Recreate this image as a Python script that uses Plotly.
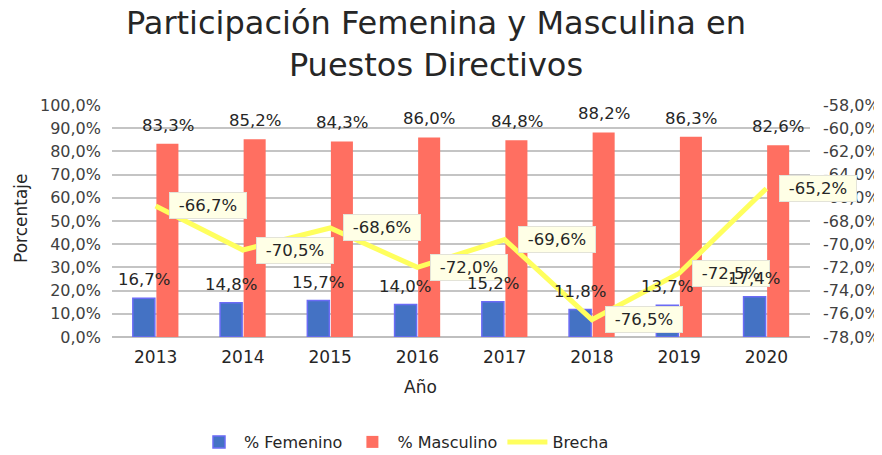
import plotly.graph_objects as go

years = [2013, 2014, 2015, 2016, 2017, 2018, 2019, 2020]
femenino = [16.7, 14.8, 15.7, 14.0, 15.2, 11.8, 13.7, 17.4]
masculino = [83.3, 85.2, 84.3, 86.0, 84.8, 88.2, 86.3, 82.6]
brecha = [-66.7, -70.5, -68.6, -72.0, -69.6, -76.5, -72.5, -65.2]
left_ticks = [0, 10, 20, 30, 40, 50, 60, 70, 80, 90, 100]
right_ticks = [-78, -76, -74, -72, -70, -68, -66, -64, -62, -60, -58]

FONT = "DejaVu Sans"
TXT = "#404040"
DARK = "#262626"

# page has an 8px body margin; the figure is sized to fit the 882x455 window
OFF = 8
W, H = 882 - OFF, 455 - OFF
PL, PR, PT, PB = 112 - OFF, 810 - OFF, 105 - OFF, 337 - OFF   # plot box in figure px
PW, PH = PR - PL, PB - PT


def px_x(page_x):
    return (page_x - OFF - PL) / PW


def px_y(page_y):
    return (PB - (page_y - OFF)) / PH


def fmt(v):
    return f"{v:.1f}%".replace(".", ",")


fig = go.Figure()
fig.add_trace(go.Bar(
    x=years, y=femenino, name="% Femenino",
    marker=dict(color="#4472C4", line=dict(color="#6B6BF5", width=1.5)),
    offsetgroup="f",
))
fig.add_trace(go.Bar(
    x=years, y=masculino, name="% Masculino",
    marker=dict(color="#FF6F61", line=dict(color="#FF6F61", width=0)),
    offsetgroup="m",
))
fig.add_trace(go.Scatter(
    x=years, y=brecha, name="Brecha", yaxis="y2", mode="lines",
    line=dict(color="#FFFF5E", width=5),
))

for i, yr in enumerate(years):
    fig.add_annotation(x=yr, y=femenino[i], xref="x", yref="y", text=fmt(femenino[i]),
                       showarrow=False, yanchor="bottom", yshift=7, xshift=-12,
                       font=dict(size=16.5, color=DARK, family=FONT))
    fig.add_annotation(x=yr, y=masculino[i], xref="x", yref="y", text=fmt(masculino[i]),
                       showarrow=False, yanchor="bottom", yshift=7, xshift=12,
                       font=dict(size=16.5, color=DARK, family=FONT))
    fig.add_annotation(x=yr, y=brecha[i], xref="x", yref="y2", text=fmt(brecha[i]),
                       showarrow=False, xanchor="left", yanchor="middle", xshift=13,
                       width=70, align="center",
                       bgcolor="#FFFFE6", bordercolor="#E3E3D8", borderwidth=1, borderpad=3,
                       font=dict(size=16.5, color=DARK, family=FONT))

# axis titles placed as annotations
fig.add_annotation(xref="paper", yref="paper", x=px_x(420), y=px_y(387),
                   text="Año", showarrow=False, yanchor="middle",
                   font=dict(size=17, color=DARK, family=FONT))
fig.add_annotation(xref="paper", yref="paper", x=px_x(21), y=px_y(218),
                   text="Porcentaje", showarrow=False, textangle=-90,
                   xanchor="center", yanchor="middle",
                   font=dict(size=17, color=DARK, family=FONT))

fig.update_layout(
    width=W, height=H,
    paper_bgcolor="white", plot_bgcolor="white",
    separators=",.",
    font=dict(family=FONT, color=TXT, size=15),
    title=dict(text="Participación Femenina y Masculina en<br>Puestos Directivos",
               x=px_x(436), xref="paper", xanchor="center",
               yref="container", y=1 - 26 / H, yanchor="middle",
               font=dict(size=32, color=DARK, family=FONT)),
    margin=dict(l=PL, r=W - PR, t=PT, b=H - PB, autoexpand=False),
    barmode="group", bargap=0.46, bargroupgap=0.065,
    showlegend=True,
    legend=dict(orientation="h", x=px_x(404), xanchor="center",
                y=px_y(442), yanchor="middle",
                font=dict(size=16, color=DARK, family=FONT), itemwidth=40,
                traceorder="normal"),
    xaxis=dict(type="linear", range=[2012.5, 2020.5], tickmode="linear", tick0=2013, dtick=1,
               tickformat="d", tickfont=dict(size=17, color=DARK), ticklabelstandoff=8,
               showgrid=False, showline=False, ticks="", zeroline=False),
    yaxis=dict(range=[0, 100], tickmode="array", tickvals=left_ticks,
               ticktext=[fmt(v) for v in left_ticks], ticklabelstandoff=10,
               showgrid=True, gridcolor="#C4C4C4", gridwidth=2,
               zeroline=True, zerolinecolor="#BFBFBF", zerolinewidth=2,
               tickfont=dict(size=16, color=TXT)),
    yaxis2=dict(overlaying="y", side="right", range=[-78, -58], tickmode="array",
                tickvals=right_ticks, ticktext=[fmt(v) for v in right_ticks],
                ticklabelstandoff=12, showgrid=False, zeroline=False,
                tickfont=dict(size=16, color=TXT)),
)

fig.write_html("out.html")
